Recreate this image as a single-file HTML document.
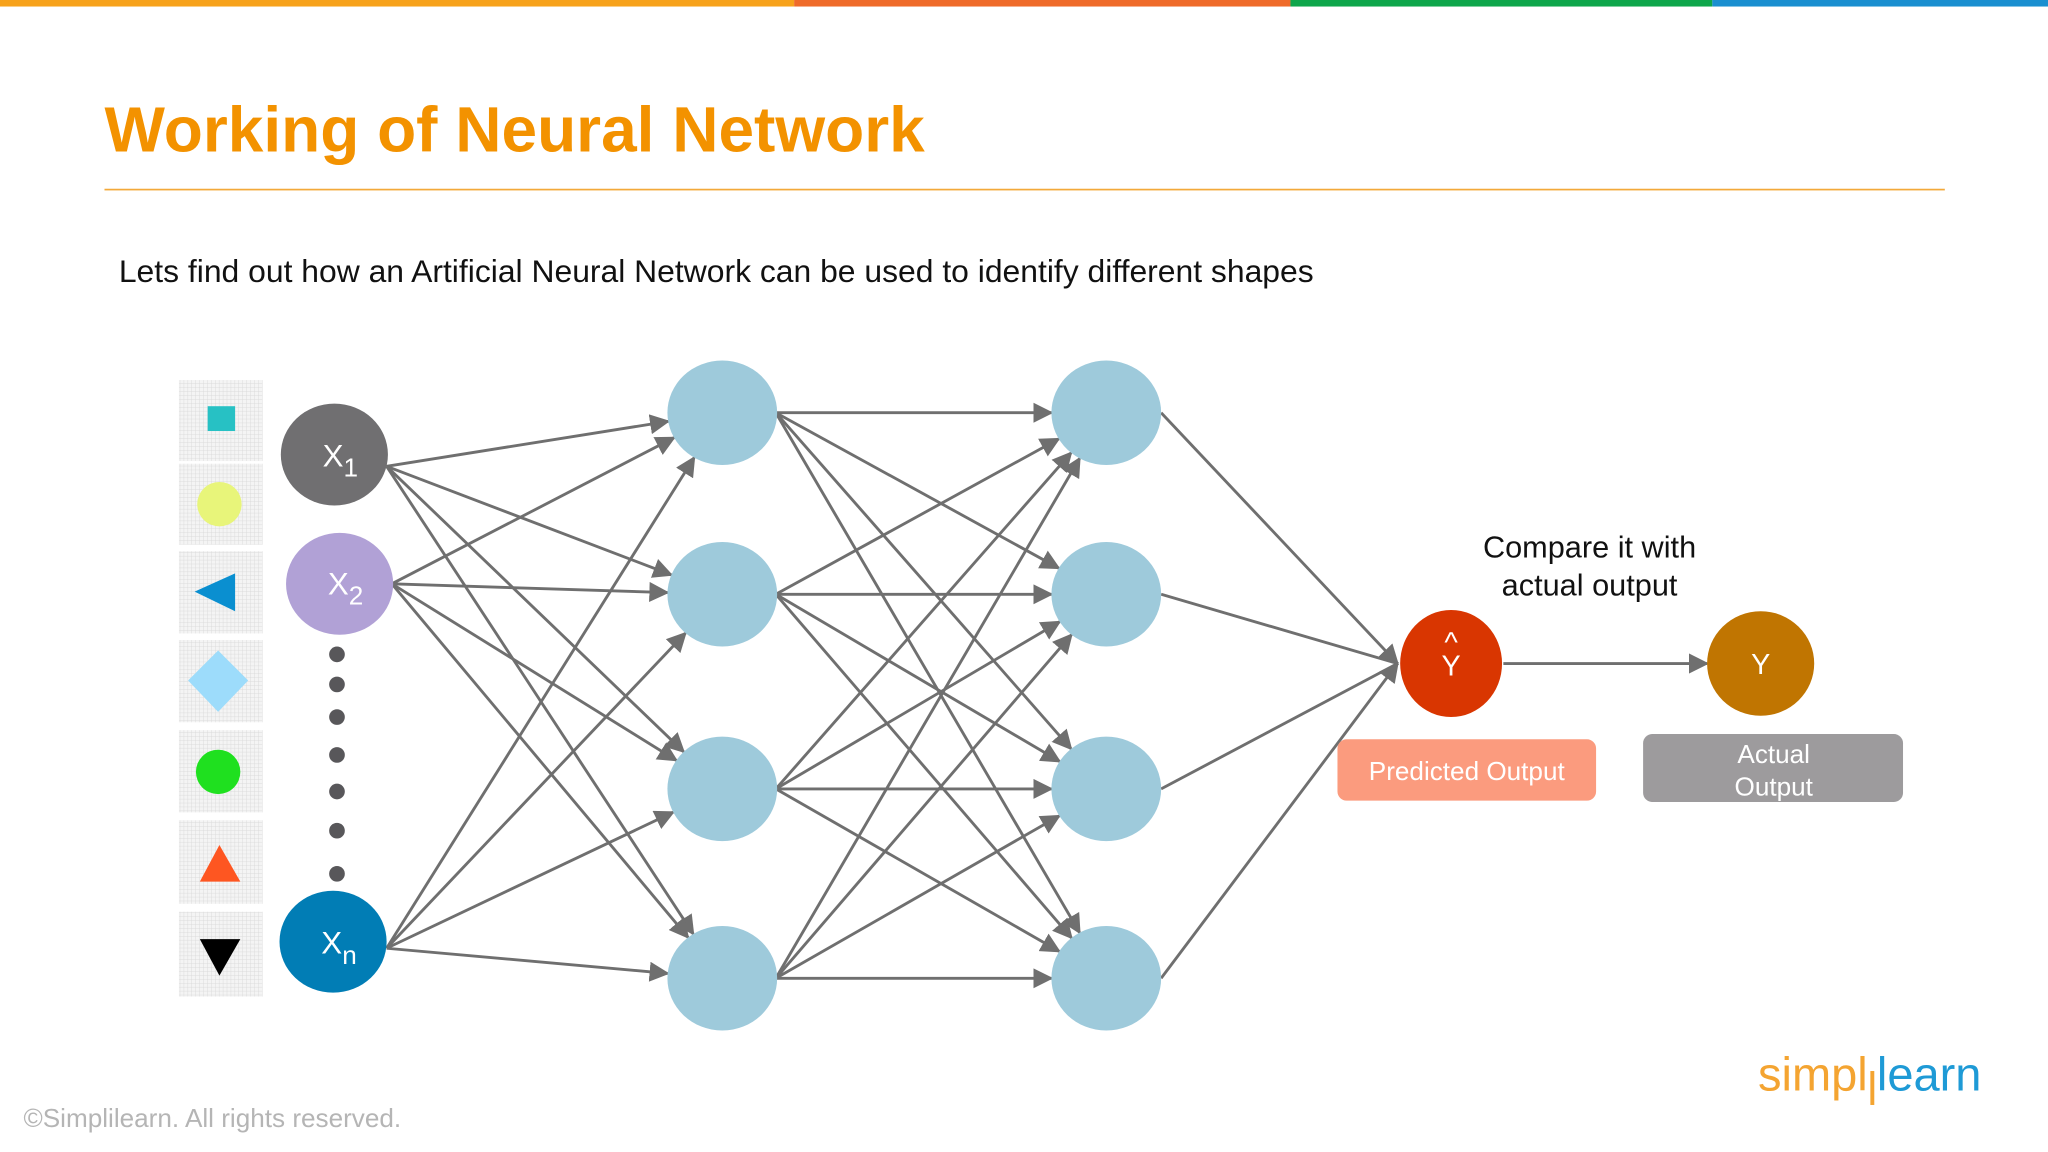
<!DOCTYPE html>
<html><head><meta charset="utf-8"><style>
html,body{margin:0;padding:0;background:#fff;}
svg{display:block;}
text{font-family:"Liberation Sans",Arial,sans-serif;}
</style></head><body>
<svg id="s" width="2048" height="1152" viewBox="0 0 1568 882" xmlns="http://www.w3.org/2000/svg">
<defs>
<marker id="ah" viewBox="0 0 10 10" refX="9" refY="5" markerWidth="7" markerHeight="7" orient="auto" markerUnits="strokeWidth"><path d="M0,0L10,5L0,10z" fill="#6f6f6f"/></marker>
<pattern id="grid" width="3" height="3" patternUnits="userSpaceOnUse"><rect width="3" height="3" fill="#f4f4f4"/><path d="M3,0V3M0,3H3" stroke="#d6d6d6" stroke-width="0.6"/></pattern>
</defs>
<rect x="0" y="0" width="608" height="5" fill="#f7a21b"/>
<rect x="608" y="0" width="380" height="5" fill="#ef6b2a"/>
<rect x="988" y="0" width="323" height="5" fill="#0ea64b"/>
<rect x="1311" y="0" width="257" height="5" fill="#1a8fd0"/>
<text x="80" y="116" font-size="49" font-weight="bold" fill="#f39200">Working of Neural Network</text>
<rect x="80" y="144.5" width="1409" height="1.3" fill="#f3a93a"/>
<text x="91" y="216" font-size="24.4" fill="#111">Lets find out how an Artificial Neural Network can be used to identify different shapes</text>
<g id="edges" stroke="#6f6f6f" stroke-width="2.2" fill="none"></g>
<g fill="url(#grid)">
<rect x="137" y="291" width="64" height="62"/><rect x="137" y="355" width="64" height="62"/>
<rect x="137" y="422" width="64" height="63"/><rect x="137" y="490" width="64" height="63"/>
<rect x="137" y="559" width="64" height="63"/><rect x="137" y="628" width="64" height="64"/>
<rect x="137" y="698" width="64" height="65"/>
</g>
<rect x="159" y="311" width="21" height="19" fill="#27c1c4"/>
<circle cx="168" cy="386" r="17" fill="#e8f57a"/>
<path d="M149,453L180,439L180,468z" fill="#0a8fd0"/>
<path d="M167,498L190,521L167,545L144,521z" fill="#9ddcfb"/>
<circle cx="167" cy="591" r="17" fill="#1fe01f"/>
<path d="M168,647L184,675L153,675z" fill="#fe5621"/>
<path d="M153,719L184,719L168,747z" fill="#000"/>
<ellipse cx="256" cy="348" rx="41" ry="39" fill="#706f71"/>
<ellipse cx="260" cy="447" rx="41" ry="39" fill="#b1a1d6"/>
<ellipse cx="255" cy="721" rx="41" ry="39" fill="#017db5"/>
<text x="247" y="357" font-size="24" fill="#fff">X<tspan font-size="20" dy="8">1</tspan></text>
<text x="251" y="455" font-size="24" fill="#fff">X<tspan font-size="20" dy="8">2</tspan></text>
<text x="246" y="730" font-size="24" fill="#fff">X<tspan font-size="20" dy="8">n</tspan></text>
<g fill="#58575a">
<circle cx="258" cy="501" r="6"/><circle cx="258" cy="524" r="6"/><circle cx="258" cy="549" r="6"/><circle cx="258" cy="578" r="6"/><circle cx="258" cy="606" r="6"/><circle cx="258" cy="636" r="6"/><circle cx="258" cy="669" r="6"/>
</g>
<g id="hid" fill="#9ecadb"></g>
<ellipse cx="1111" cy="508" rx="39" ry="41" fill="#d93601"/>
<ellipse cx="1348" cy="508" rx="41" ry="40" fill="#c07501"/>
<text x="1111" y="499" font-size="22" fill="#fff" text-anchor="middle">^</text>
<text x="1111" y="517" font-size="22" fill="#fff" text-anchor="middle">Y</text>
<text x="1348" y="516" font-size="22" fill="#fff" text-anchor="middle">Y</text>
<text x="1217" y="427" font-size="23.5" fill="#111" text-anchor="middle">Compare it with</text>
<text x="1217" y="456" font-size="23.5" fill="#111" text-anchor="middle">actual output</text>
<rect x="1024" y="566" width="198" height="47" rx="7" fill="#fb9b7e"/>
<text x="1123" y="597" font-size="20" fill="#fff" text-anchor="middle">Predicted Output</text>
<rect x="1258" y="562" width="199" height="52" rx="7" fill="#9d9b9d"/>
<text x="1358" y="584" font-size="20" fill="#fff" text-anchor="middle">Actual</text>
<text x="1358" y="609" font-size="20" fill="#fff" text-anchor="middle">Output</text>
<text x="18" y="863" font-size="20" fill="#b5b5b5">©Simplilearn. All rights reserved.</text>
<text x="1346" y="835" font-size="36" fill="#f4a431">simpl</text>
<rect x="1432" y="820" width="3" height="26" fill="#f4a431"/>
<text x="1437" y="835" font-size="36" fill="#1e9ad6">learn</text>
</svg>
<script>
var NS="http://www.w3.org/2000/svg";
var E=document.getElementById("edges"),H=document.getElementById("hid");
var ys=[316,455,604,749],h1=553,h2=847,rx=42,ry=40;
ys.forEach(function(y){[h1,h2].forEach(function(x){var e=document.createElementNS(NS,"ellipse");e.setAttribute("cx",x);e.setAttribute("cy",y);e.setAttribute("rx",rx);e.setAttribute("ry",ry);H.appendChild(e);});});
function raw(x1,y1,x2,y2,arrow){
 var l=document.createElementNS(NS,"line");
 l.setAttribute("x1",x1);l.setAttribute("y1",y1);l.setAttribute("x2",x2);l.setAttribute("y2",y2);
 if(arrow)l.setAttribute("marker-end","url(#ah)");
 E.appendChild(l);
}
function L(x1,y1,tx,ty,trx,try_,arrow){
 var dx=tx-x1,dy=ty-y1,len=Math.sqrt(dx*dx+dy*dy);
 var ux=dx/len,uy=dy/len;
 var t=1/Math.sqrt((ux*ux)/(trx*trx)+(uy*uy)/(try_*try_));
 raw(x1,y1,tx-ux*t,ty-uy*t,arrow);
}
var ins=[[296,357],[300,447],[296,726]];
ins.forEach(function(p){ys.forEach(function(y){L(p[0],p[1],h1,y,rx,ry,true);});});
ys.forEach(function(a){ys.forEach(function(b){L(h1+41,a,h2,b,rx,ry,true);});});
ys.forEach(function(a){raw(h2+42,a,1070,508,a==ys[0]||a==ys[3]);});
L(1151,508,1348,508,41,40,true);
</script>
</body></html>
